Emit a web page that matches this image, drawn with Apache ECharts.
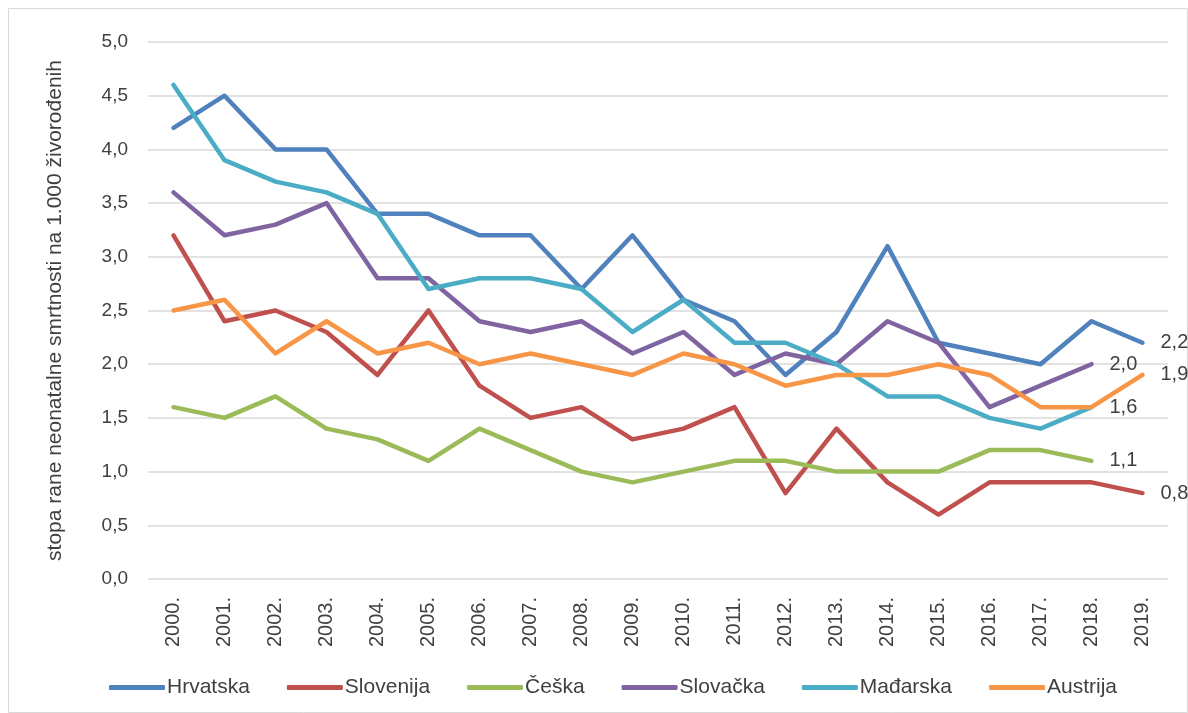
<!DOCTYPE html>
<html><head><meta charset="utf-8">
<script src="https://cdn.jsdelivr.net/npm/echarts@6/dist/echarts.min.js"></script>
<style>html,body{margin:0;padding:0;background:#fff}#c{width:1188px;height:713px}</style>
</head><body><div id="c"></div>
<script>
const years = ['2000.','2001.','2002.','2003.','2004.','2005.','2006.','2007.','2008.','2009.','2010.','2011.','2012.','2013.','2014.','2015.','2016.','2017.','2018.','2019.'];
const hrvatska = [4.2,4.5,4.0,4.0,3.4,3.4,3.2,3.2,2.7,3.2,2.6,2.4,1.9,2.3,3.1,2.2,2.1,2.0,2.4,2.2];
const slovenija = [3.2,2.4,2.5,2.3,1.9,2.5,1.8,1.5,1.6,1.3,1.4,1.6,0.8,1.4,0.9,0.6,0.9,0.9,0.9,0.8];
const ceska = [1.6,1.5,1.7,1.4,1.3,1.1,1.4,1.2,1.0,0.9,1.0,1.1,1.1,1.0,1.0,1.0,1.2,1.2,1.1,null];
const slovacka = [3.6,3.2,3.3,3.5,2.8,2.8,2.4,2.3,2.4,2.1,2.3,1.9,2.1,2.0,2.4,2.2,1.6,1.8,2.0,null];
const madarska = [4.6,3.9,3.7,3.6,3.4,2.7,2.8,2.8,2.7,2.3,2.6,2.2,2.2,2.0,1.7,1.7,1.5,1.4,1.6,null];
const austrija = [2.5,2.6,2.1,2.4,2.1,2.2,2.0,2.1,2.0,1.9,2.1,2.0,1.8,1.9,1.9,2.0,1.9,1.6,1.6,1.9];
const seriesDefs = [
  ['Hrvatska', hrvatska, '#4F81BD'],
  ['Slovenija', slovenija, '#C0504D'],
  ['Češka', ceska, '#9BBB59'],
  ['Slovačka', slovacka, '#8064A2'],
  ['Mađarska', madarska, '#4BACC6'],
  ['Austrija', austrija, '#F79646']
];
const fmt = v => v.toFixed(1).replace('.', ',');
function lastIdx(arr){ for(let i=arr.length-1;i>=0;i--) if(arr[i]!=null) return i; return -1; }
const chart = echarts.init(document.getElementById('c'), null, {renderer:'canvas'});
const font = 'Liberation Sans, Arial, sans-serif';
const txt = '#404040';
chart.setOption({
  animation:false,
  textStyle:{fontFamily:font},
  graphic:[{type:'rect',shape:{x:8.5,y:8.5,width:1179,height:704},style:{fill:'none',stroke:'#d9d9d9',lineWidth:1}}],
  grid:{left:148,right:20,top:42,bottom:134,containLabel:false},
  legend:{
    top:672,left:104,itemWidth:56,itemHeight:5,itemGap:37,
    icon:'roundRect',
    textStyle:{fontSize:21,color:txt,fontFamily:font,padding:[0,0,0,-3]},
    data:seriesDefs.map(s=>s[0])
  },
  xAxis:{
    type:'category',data:years,boundaryGap:true,
    axisLine:{show:false},axisTick:{show:false},
    axisLabel:{rotate:90,fontSize:20,color:txt,margin:18,fontFamily:font}
  },
  yAxis:{
    type:'value',min:0,max:5,interval:0.5,
    name:'stopa rane neonatalne smrtnosti na 1.000 živorođenih',
    nameLocation:'middle',nameGap:82,nameRotate:90,
    nameTextStyle:{fontSize:21,color:txt,fontFamily:font},
    axisLine:{show:false},axisTick:{show:false},
    axisLabel:{formatter:v=>fmt(v),fontSize:19,color:txt,margin:20,fontFamily:font},
    splitLine:{lineStyle:{color:'#d9d9d9',width:1.5}}
  },
  series:seriesDefs.map(([name,data,color])=>{
    const li = lastIdx(data);
    return {
      name,type:'line',
      data:data.map((v,i)=> v==null?null:(i===li?{value:v,label:{show:true}}:v)),
      showSymbol:true,symbol:'circle',symbolSize:0,connectNulls:false,
      lineStyle:{width:4.5,color,join:'round',cap:'round'},itemStyle:{color},
      label:{show:false,position:'right',distance:18,fontSize:20,color:txt,fontFamily:font,formatter:p=>fmt(p.value)}
    };
  })
});
</script></body></html>
